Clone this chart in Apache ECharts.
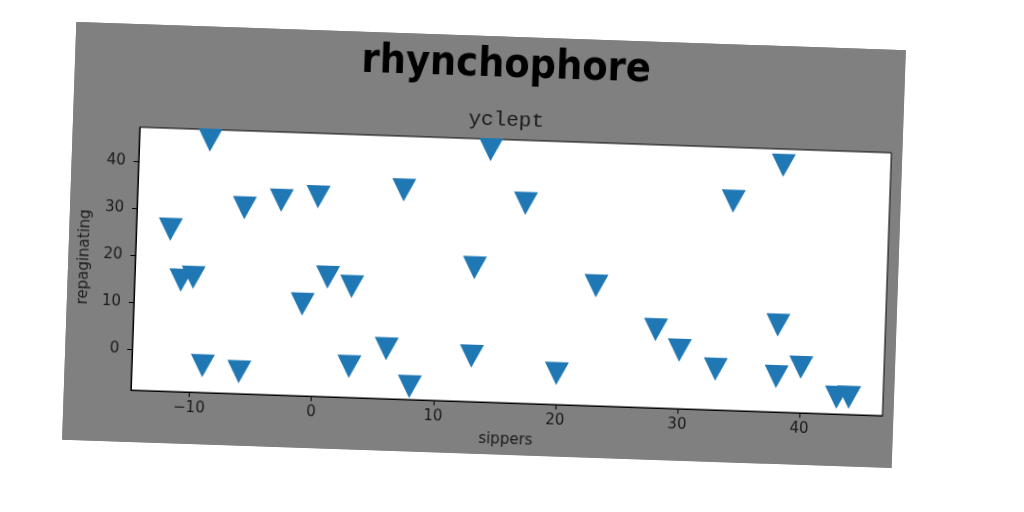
<!DOCTYPE html>
<html>
<head>
<meta charset="utf-8">
<script src="https://cdn.jsdelivr.net/npm/echarts@6/dist/echarts.min.js"></script>
<style>
  html, body { margin: 0; padding: 0; background: #ffffff; width: 1024px; height: 512px; overflow: hidden; }
  #fig { position: absolute; left: 68.75px; top: 36px; width: 830px; height: 418px;
         background: #808080; transform: rotate(1.95deg); transform-origin: 50% 50%; }
</style>
</head>
<body>
<div id="fig"></div>
<script>
// ---- data ----
const titleText = 'rhynchophore';
const subtitleText = 'yclept';
const xName = 'sippers';
const yName = 'repaginating';
const xTicks = [-10, 0, 10, 20, 30, 40];
const yTicks = [0, 10, 20, 30, 40];
const xValues = [-12, -11, -10, -9, -9, -6, -6, -3, -1, 0, 1, 3, 3, 6, 7, 8,
                 13, 13, 14, 17, 20, 23, 28, 30, 33, 34, 38, 38, 38, 40, 43, 44];
const yValues = [25.8, 15.0, 15.7, 45.1, -3.1, 30.9, -4.1, 32.8, 10.8, 33.8, 16.7, 14.9, -2.2, 1.9, 35.9, -6.0,
                 19.8, 0.9, 45.1, 33.9, -2.2, 16.8, 7.9, 3.7, -0.1, 35.9, 43.9, 9.8, -1.2, 0.9, -5.2, -5.1];

const points = xValues.map((x, i) => [x, yValues[i]]);

const chart = echarts.init(document.getElementById('fig'), null, { renderer: 'canvas', width: 830, height: 418 });
chart.setOption({
  animation: false,
  backgroundColor: '#808080',
  title: [
    { text: titleText, left: 431, top: 9, textAlign: 'center', padding: 0,
      textStyle: { fontFamily: "'DejaVu Sans Condensed', 'DejaVu Sans', sans-serif", fontWeight: 'bold', fontSize: 41, color: '#000000' } },
    { text: subtitleText, left: 433, top: 73, textAlign: 'center', padding: 0,
      textStyle: { fontFamily: "'Courier New', 'Nimbus Mono PS', 'FreeMono', 'Liberation Mono', monospace", fontWeight: 'normal', fontSize: 21, color: '#1a1a1a' } }
  ],
  grid: { left: 67, top: 103, width: 752, height: 263, show: true, backgroundColor: '#ffffff',
          borderColor: '#000000', borderWidth: 1, containLabel: false, outerBoundsMode: 'none' },
  xAxis: {
    type: 'value', min: -14.8, max: 46.8,
    name: xName, nameLocation: 'middle', nameGap: 30,
    nameTextStyle: { fontFamily: 'DejaVu Sans', fontSize: 15, color: '#1a1a1a' },
    axisLine: { show: true, onZero: false, lineStyle: { color: '#000000', width: 1 } },
    axisTick: { show: true, length: 5, customValues: xTicks, lineStyle: { color: '#000000' } },
    axisLabel: { customValues: xTicks, margin: 9, fontFamily: 'DejaVu Sans', fontSize: 15, color: '#1a1a1a',
                 formatter: v => (v < 0 ? '\u2212' + Math.abs(v) : String(v)) },
    splitLine: { show: false }
  },
  yAxis: {
    type: 'value', min: -8.8, max: 47.35,
    name: yName, nameLocation: 'middle', nameGap: 41,
    nameTextStyle: { fontFamily: 'DejaVu Sans', fontSize: 15, color: '#1a1a1a' },
    axisLine: { show: true, onZero: false, lineStyle: { color: '#000000', width: 1 } },
    axisTick: { show: true, length: 5, customValues: yTicks, lineStyle: { color: '#000000' } },
    axisLabel: { customValues: yTicks, margin: 13, fontFamily: 'DejaVu Sans', fontSize: 15, color: '#1a1a1a' },
    splitLine: { show: false }
  },
  series: [{
    type: 'scatter',
    data: points,
    symbol: 'triangle',
    symbolRotate: 180,
    symbolSize: [24, 23],
    itemStyle: { color: '#1f77b4', opacity: 1 },
    clip: false
  }]
});
</script>
</body>
</html>
